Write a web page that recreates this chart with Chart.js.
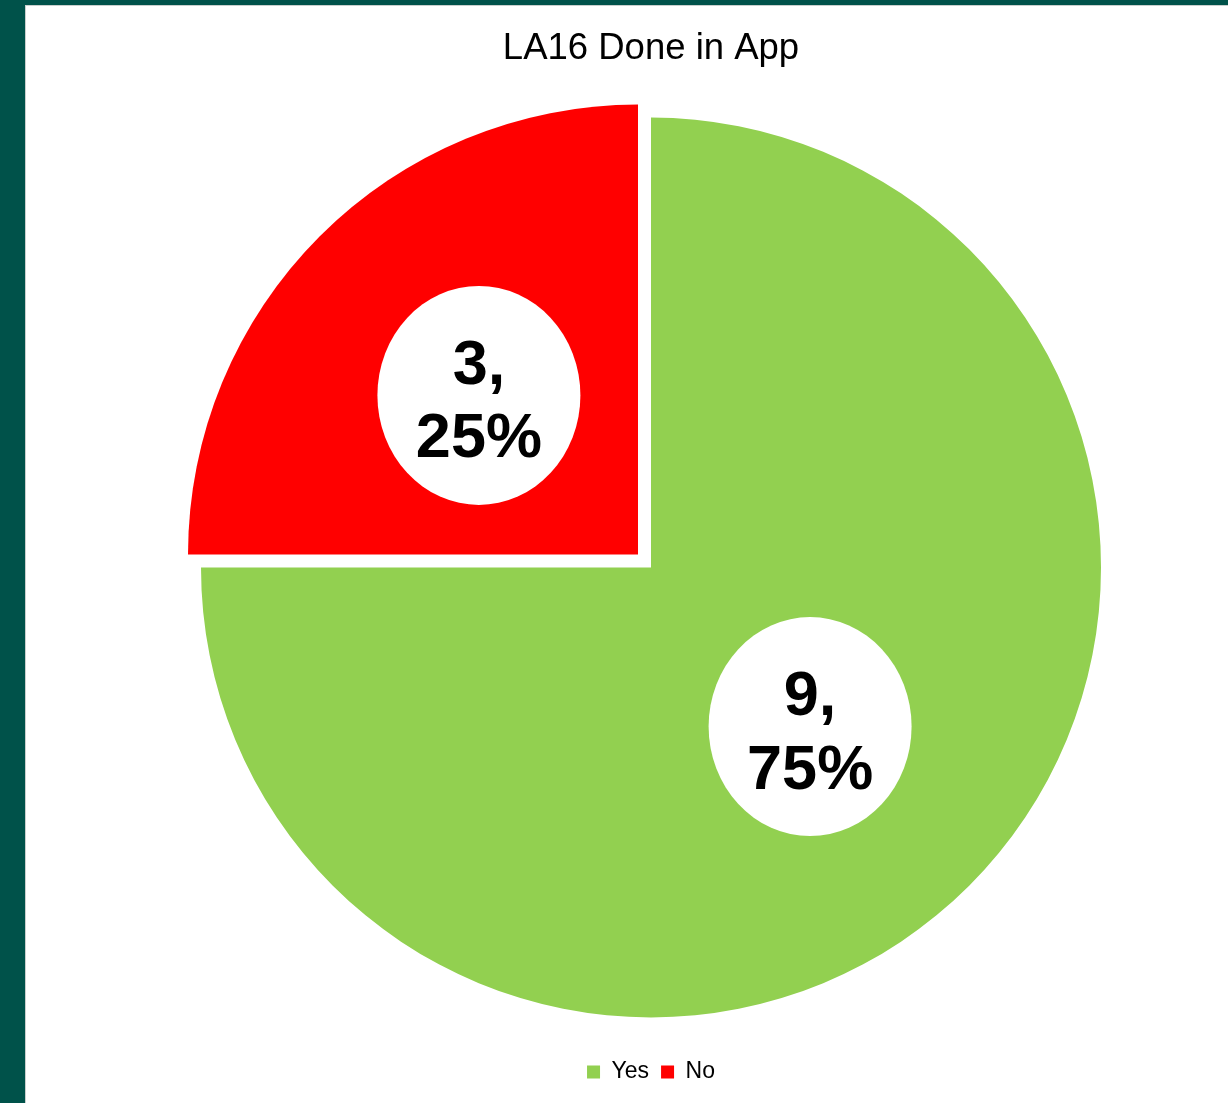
<!DOCTYPE html>
<html>
<head>
<meta charset="utf-8">
<script src="https://cdn.jsdelivr.net/npm/chart.js@4/dist/chart.umd.min.js"></script>
<style>
  html, body { margin: 0; padding: 0; width: 1228px; height: 1103px; overflow: hidden; background: #00524A; }
  #panel { position: absolute; left: 25px; top: 5px; width: 1203px; height: 1098px; background: #ffffff; border-left: 1px solid #c9cfcd; border-top: 1px solid #c9cfcd; box-sizing: border-box; }
  #chart { position: absolute; left: 0; top: 0; }
</style>
</head>
<body>
<div id="panel"></div>
<canvas id="chart" width="1228" height="1103"></canvas>
<script>
const chartTitle = 'LA16 Done in App';
const categories = ['Yes', 'No'];
const values = [9, 3];
const sliceColors = ['#92D050', '#FF0000'];
const sliceOffsets = [0, 73.5];

const FONT = '"Liberation Sans", Arial, Helvetica, sans-serif';

const bubbleLabels = {
  id: 'bubbleLabels',
  afterDatasetsDraw(chart) {
    const ctx = chart.ctx;
    const meta = chart.getDatasetMeta(0);
    const data = chart.data.datasets[0].data;
    const total = data.reduce((a, b) => a + b, 0);
    meta.data.forEach((arc, i) => {
      const p = arc.getProps(['x', 'y', 'startAngle', 'endAngle', 'outerRadius'], true);
      const mid = (p.startAngle + p.endAngle) / 2;
      const t = (arc.options.offset || 0) / 4;
      const r = t + p.outerRadius / 2;
      const cx = p.x + Math.cos(mid) * r;
      const cy = p.y + Math.sin(mid) * r;
      ctx.save();
      ctx.beginPath();
      ctx.ellipse(cx, cy, 101.5, 109.5, 0, 0, Math.PI * 2);
      ctx.fillStyle = '#ffffff';
      ctx.fill();
      ctx.fillStyle = '#000000';
      ctx.font = 'bold 63px ' + FONT;
      ctx.textAlign = 'center';
      ctx.textBaseline = 'alphabetic';
      const pct = Math.round(data[i] / total * 100) + '%';
      ctx.fillText(data[i] + ',', cx, cy - 11.5);
      ctx.fillText(pct, cx, cy + 62);
      ctx.restore();
    });
  }
};

new Chart(document.getElementById('chart'), {
  type: 'pie',
  data: {
    labels: categories,
    datasets: [{
      data: values,
      backgroundColor: sliceColors,
      borderColor: sliceColors,
      borderWidth: 0,
      offset: sliceOffsets,
      hoverOffset: 0,
      radius: 450
    }]
  },
  options: {
    responsive: false,
    animation: false,
    events: [],
    layout: { padding: { left: 74, right: 0, top: 0, bottom: 9.5 } },
    plugins: {
      title: {
        display: true,
        text: chartTitle,
        color: '#000000',
        font: { family: FONT, size: 36.5, weight: 'normal' },
        padding: { top: 27.1, bottom: 15.6 }
      },
      legend: {
        display: true,
        position: 'bottom',
        labels: {
          color: '#000000',
          font: { family: FONT, size: 23 },
          boxWidth: 13,
          boxHeight: 13,
          padding: 12
        }
      },
      tooltip: { enabled: false }
    }
  },
  plugins: [bubbleLabels]
});
</script>
</body>
</html>
